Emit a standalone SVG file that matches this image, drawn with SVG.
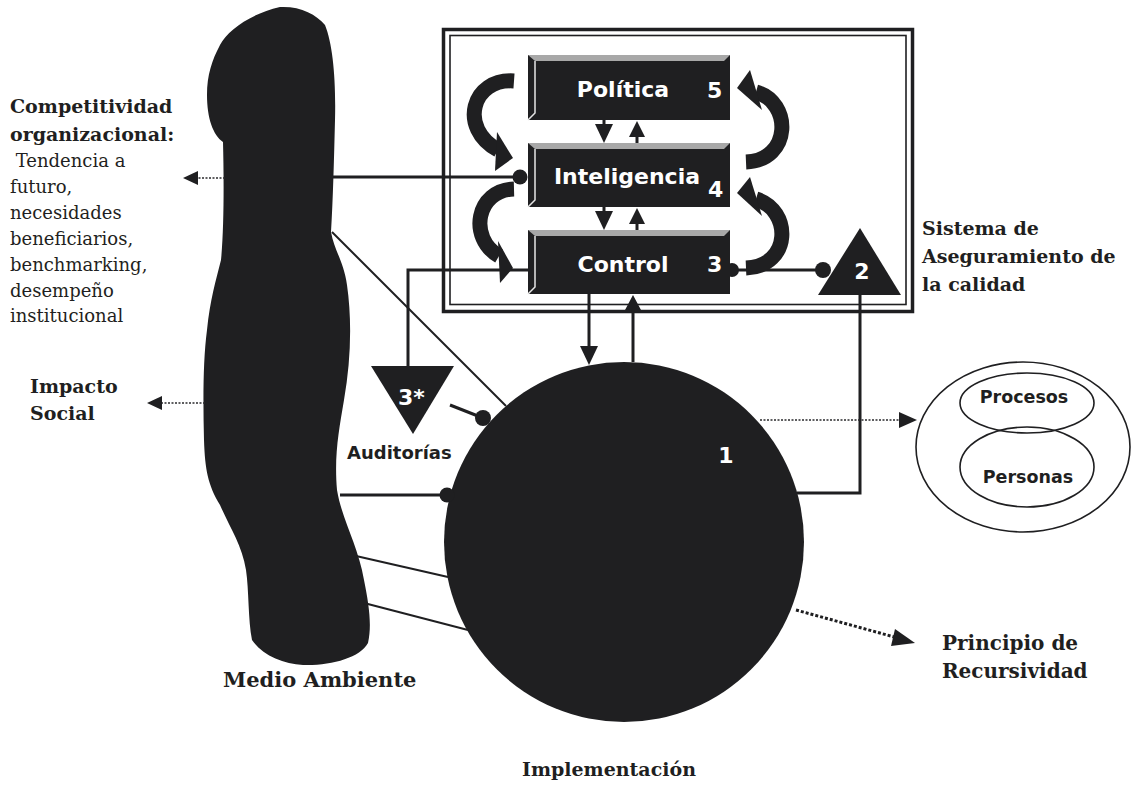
<svg xmlns="http://www.w3.org/2000/svg" width="1133" height="787" viewBox="0 0 1133 787">
  <defs>
    <style>
      .ink { fill: #1f1f21; }
      .line { stroke: #1f1f21; stroke-width: 3; fill: none; }
      .thin { stroke: #1f1f21; stroke-width: 2; fill: none; }
      .dotted { stroke: #2a2a2c; stroke-width: 1.6; stroke-dasharray: 2 1.5; fill: none; }
      .dotted-heavy { stroke: #1f1f21; stroke-width: 3; stroke-dasharray: 3 2; fill: none; }
      .curve { stroke: #1f1f21; stroke-width: 15; fill: none; }
      .box-label { font-family: "DejaVu Sans", Verdana, sans-serif; font-weight: bold; fill: #ffffff; font-size: 22px; }
      .sans-label { font-family: "DejaVu Sans", Verdana, sans-serif; font-weight: bold; fill: #1f1f21; }
      .serif-bold { font-family: "DejaVu Serif", "Liberation Serif", serif; font-weight: bold; fill: #1f1f21; font-size: 19px; }
      .serif-bold.large { font-size: 21px; }
      .serif-bold.medium { font-size: 20px; }
      .serif { font-family: "DejaVu Serif", "Liberation Serif", serif; fill: #1f1f21; font-size: 18px; }
      .bevel-top { fill: #a8a8a8; }
      .bevel-edge { stroke: #e6e6e6; stroke-width: 1.5; fill: none; }
    </style>
  </defs>

  <rect width="1133" height="787" fill="#ffffff"/>

  <!-- quality-assurance frame (double border) -->
  <g id="frame">
    <rect x="443.5" y="29.5" width="469" height="282" fill="none" stroke="#1f1f21" stroke-width="3.5"/>
    <rect x="450" y="35.5" width="456" height="269" fill="none" stroke="#1f1f21" stroke-width="1.6"/>
  </g>

  <!-- environment silhouette -->
  <g id="medio-ambiente">
    <path class="ink" d="M 280 7 C 300 6, 316 14, 325 25 C 333 45, 336 80, 335 120 C 334 160, 333 200, 331 232 C 334 250, 344 262, 347 285 C 352 320, 351 360, 344 400 C 339 430, 334 455, 337 490 C 342 520, 358 545, 364 580 C 369 605, 372 625, 368 643 C 360 658, 330 666, 303 665 C 283 664, 262 655, 252 640 C 248 620, 249 590, 246 570 C 242 545, 230 528, 220 505 C 208 485, 205 470, 204 440 C 203 400, 203 360, 207 330 C 210 300, 216 280, 221 260 C 224 230, 224 180, 223 142 C 213 135, 207 118, 207 95 C 207 75, 212 60, 220 45 C 228 30, 250 14, 280 7 Z"/>
    <text class="serif-bold large" x="223" y="687">Medio Ambiente</text>
  </g>

  <!-- implementation unit -->
  <g id="implementacion">
    <circle class="ink" cx="624" cy="542" r="180"/>
    <text class="box-label" x="726" y="463" text-anchor="middle">1</text>
    <text class="serif-bold" x="522" y="776">Implementación</text>
  </g>

  <!-- connectors -->
  <g id="connectors">
    <!-- environment to intelligence -->
    <line class="line" x1="333" y1="177" x2="520" y2="177"/>
    <circle class="ink" cx="520" cy="177" r="7.5"/>
    <!-- control to audits -->
    <polyline class="line" points="528,270 408,270 408,368"/>
    <!-- control to coordination triangle -->
    <line class="line" x1="732" y1="270" x2="823" y2="270"/>
    <circle class="ink" cx="732" cy="270" r="7"/>
    <circle class="ink" cx="823" cy="270" r="8"/>
    <!-- coordination to implementation -->
    <polyline class="line" points="860,290 860,493 797,493"/>
    <!-- control down to implementation -->
    <line class="line" x1="589" y1="294" x2="589" y2="348"/>
    <polygon class="ink" points="580,346 598,346 589,365"/>
    <!-- implementation up to control -->
    <line class="line" x1="633" y1="362" x2="633" y2="310"/>
    <polygon class="ink" points="625,310 641,310 633,295"/>
    <!-- policy / intelligence exchange -->
    <line class="line" x1="604" y1="120" x2="604" y2="128"/>
    <polygon class="ink" points="595,124 613,124 604,143"/>
    <line class="line" x1="637" y1="143" x2="637" y2="135"/>
    <polygon class="ink" points="629,137 645,137 637,121"/>
    <!-- intelligence / control exchange -->
    <line class="line" x1="604" y1="207" x2="604" y2="214"/>
    <polygon class="ink" points="595,211 613,211 604,230"/>
    <line class="line" x1="637" y1="230" x2="637" y2="222"/>
    <polygon class="ink" points="629,224 645,224 637,208"/>
    <!-- audits to implementation -->
    <line class="line" x1="450" y1="405" x2="483" y2="418"/>
    <circle class="ink" cx="483" cy="418" r="8"/>
    <!-- environment to implementation -->
    <line class="thin" x1="332" y1="232" x2="506" y2="406"/>
    <line class="line" x1="340" y1="495" x2="447" y2="495"/>
    <circle class="ink" cx="447" cy="495" r="7.5"/>
    <line class="thin" x1="356" y1="556" x2="448" y2="577"/>
    <line class="thin" x1="364" y1="603" x2="468" y2="630"/>
    <!-- outputs -->
    <line class="dotted" x1="225" y1="178" x2="197" y2="178"/>
    <polygon class="ink" points="198,171 198,185 183,178"/>
    <line class="dotted" x1="205" y1="403" x2="161" y2="403"/>
    <polygon class="ink" points="162,396 162,410 147,403"/>
    <line class="dotted" x1="760" y1="420" x2="900" y2="420"/>
    <polygon class="ink" points="899,412 899,428 917,420"/>
    <line class="dotted-heavy" x1="796" y1="610" x2="898" y2="638"/>
    <polygon class="ink" points="895,629 891,646 915,643"/>
    <!-- curved feedback arrows, left -->
    <path class="curve" d="M 514 81 C 472 78, 458 128, 498 150"/>
    <polygon class="ink" points="497,132 513,158 495,171"/>
    <path class="curve" d="M 514 189 C 476 190, 468 238, 499 256"/>
    <polygon class="ink" points="498,241 513,268 500,283"/>
    <!-- curved feedback arrows, right -->
    <path class="curve" d="M 746 162 C 792 160, 792 102, 756 92"/>
    <polygon class="ink" points="750,70 737,88 762,110"/>
    <path class="curve" d="M 746 268 C 792 266, 792 210, 756 199"/>
    <polygon class="ink" points="750,177 737,193 762,216"/>
  </g>

  <!-- system 5 -->
  <g id="politica">
    <rect class="ink" x="528" y="55" width="202" height="65"/>
    <polygon class="bevel-top" points="528,55 730,55 724,61 535,61"/>
    <polyline class="bevel-edge" points="535,61 535,113 528,120"/>
    <text class="box-label" x="623" y="97" text-anchor="middle">Política</text>
    <text class="box-label" x="707" y="98">5</text>
  </g>

  <!-- system 4 -->
  <g id="inteligencia">
    <rect class="ink" x="528" y="143" width="202" height="64"/>
    <polygon class="bevel-top" points="528,143 730,143 724,149 535,149"/>
    <polyline class="bevel-edge" points="535,149 535,200 528,207"/>
    <text class="box-label" x="627" y="184" text-anchor="middle">Inteligencia</text>
    <text class="box-label" x="708" y="197">4</text>
  </g>

  <!-- system 3 -->
  <g id="control">
    <rect class="ink" x="528" y="230" width="202" height="64"/>
    <polygon class="bevel-top" points="528,230 730,230 724,236 535,236"/>
    <polyline class="bevel-edge" points="535,236 535,287 528,294"/>
    <text class="box-label" x="623" y="272" text-anchor="middle">Control</text>
    <text class="box-label" x="707" y="272">3</text>
  </g>

  <!-- system 2 -->
  <g id="coordinacion">
    <polygon class="ink" points="860,228 901,295 818,295"/>
    <text class="box-label" x="862" y="279" text-anchor="middle">2</text>
  </g>

  <!-- system 3* -->
  <g id="auditorias">
    <polygon class="ink" points="371,366 454,366 413,434"/>
    <text class="box-label" x="398" y="405">3*</text>
    <text class="sans-label" x="347" y="459" font-size="18">Auditorías</text>
  </g>

  <!-- processes and people -->
  <g id="procesos-personas">
    <ellipse cx="1023" cy="447" rx="107" ry="85" fill="none" stroke="#1f1f21" stroke-width="1.6"/>
    <ellipse cx="1027" cy="403" rx="67" ry="30" fill="none" stroke="#1f1f21" stroke-width="1.6"/>
    <ellipse cx="1027" cy="467" rx="67" ry="40" fill="none" stroke="#1f1f21" stroke-width="1.6"/>
    <text class="sans-label" x="1024" y="403" font-size="17.5" text-anchor="middle">Procesos</text>
    <text class="sans-label" x="1028" y="483" font-size="17.5" text-anchor="middle">Personas</text>
  </g>

  <!-- side labels -->
  <g id="competitividad">
    <text class="serif-bold" x="10" y="113">Competitividad</text>
    <text class="serif-bold" x="10" y="141">organizacional:</text>
    <text class="serif" x="10" y="167" xml:space="preserve"> Tendencia a</text>
    <text class="serif" x="10" y="193">futuro,</text>
    <text class="serif" x="10" y="219">necesidades</text>
    <text class="serif" x="10" y="245">beneficiarios,</text>
    <text class="serif" x="10" y="271">benchmarking,</text>
    <text class="serif" x="10" y="297">desempeño</text>
    <text class="serif" x="10" y="322">institucional</text>
  </g>

  <g id="impacto-social">
    <text class="serif-bold" x="30" y="393">Impacto</text>
    <text class="serif-bold" x="30" y="420">Social</text>
  </g>

  <g id="aseguramiento">
    <text class="serif-bold" x="922" y="235">Sistema de</text>
    <text class="serif-bold" x="922" y="263">Aseguramiento de</text>
    <text class="serif-bold" x="922" y="291">la calidad</text>
  </g>

  <g id="recursividad">
    <text class="serif-bold medium" x="942" y="650">Principio de</text>
    <text class="serif-bold medium" x="942" y="678">Recursividad</text>
  </g>
</svg>
